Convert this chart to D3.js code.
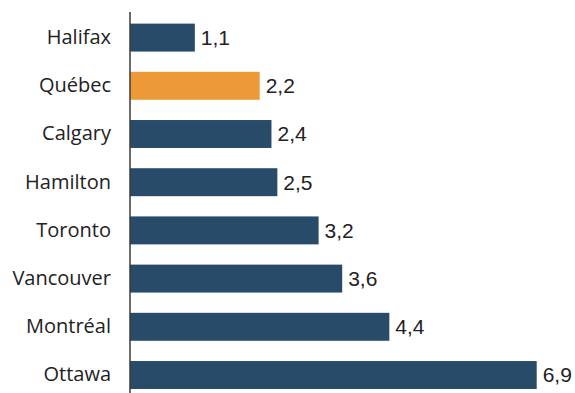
<!DOCTYPE html>
<html>
<head>
<meta charset="utf-8">
<script src="https://cdn.jsdelivr.net/npm/d3@7"></script>
<style>
  html, body { margin: 0; padding: 0; background: #fff; }
  svg { display: block; }
</style>
</head>
<body>
<svg id="chart" width="575" height="393"></svg>
<script>
// Cities, top to bottom
const cities = ["Halifax", "Québec", "Calgary", "Hamilton", "Toronto", "Vancouver", "Montréal", "Ottawa"];
// Values per city
const values = [1.1, 2.2, 2.4, 2.5, 3.2, 3.6, 4.4, 6.9];
// City shown in the highlight colour
const highlighted = ["Québec"];

const svg = d3.select("#chart");
const margin = { top: 13, left: 130 };
const rows = cities.map((c, i) => ({ city: c, value: values[i] }));

const x = d3.scaleLinear().domain([0, 6.9]).range([margin.left, 536.7]);
const y = d3.scaleBand().domain(cities).range([0, 8 * 48.2]).paddingInner(0.42).paddingOuter(0.21)
  .range([13.5, 13.5 + 8 * 48.2]);

const fmt = v => d3.format(".1f")(v).replace(".", ",");

// Bars
svg.append("g").selectAll("rect")
  .data(rows)
  .join("rect")
  .attr("x", x(0))
  .attr("y", d => y(d.city))
  .attr("width", d => x(d.value) - x(0))
  .attr("height", y.bandwidth())
  .attr("fill", d => highlighted.includes(d.city) ? "#eb9a37" : "#284b69");

// Value labels
svg.append("g").selectAll("text")
  .data(rows)
  .join("text")
  .attr("x", d => x(d.value) + 6)
  .attr("y", d => y(d.city) + y.bandwidth() / 2)
  .attr("dy", "0.35em")
  .attr("font-family", "'Liberation Sans', Arial, sans-serif")
  .attr("font-size", 21)
  .attr("fill", "#222")
  .text(d => fmt(d.value));

// Category axis
const axis = svg.append("g")
  .attr("transform", `translate(${margin.left},0)`)
  .call(d3.axisLeft(y).tickSize(0).tickPadding(19));
axis.select(".domain").remove();
axis.selectAll("text")
  .attr("font-family", "'Open Sans', 'Noto Sans', sans-serif")
  .attr("font-size", 20)
  .attr("fill", "#222");

svg.append("line")
  .attr("x1", margin.left).attr("x2", margin.left)
  .attr("y1", 12).attr("y2", 393)
  .attr("stroke", "#3a3a3a")
  .attr("stroke-width", 1.5);
</script>
</body>
</html>
